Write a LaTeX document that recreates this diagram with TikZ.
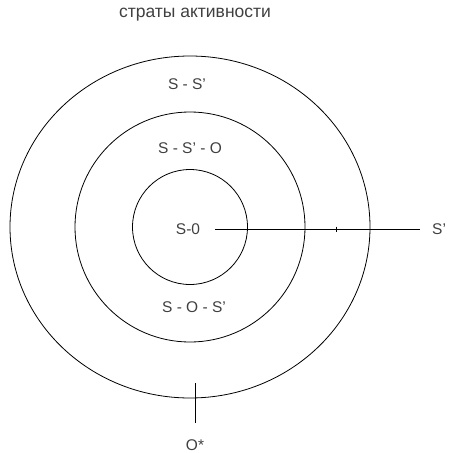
\documentclass[tikz,border=0pt]{standalone}
\usepackage{fontspec}
\setmainfont{Liberation Sans}
\begin{document}
\begin{tikzpicture}[x=1pt,y=-1pt,
  lbl/.style={inner sep=0pt,font=\fontsize{15.5}{18}\selectfont,text=black!75}]

  \useasboundingbox (0,0) rectangle (448,453);

  % Centre of the strata
  \coordinate (O) at (190,227);

  % Circles
  \draw[thick] (O) circle [x radius=180, y radius=171];
  \draw[thick] (O) circle (115);
  \draw[thick] (O) circle (57.5);

  % Title
  \node[lbl,font=\fontsize{17.5}{20}\selectfont] (title) at (195,15) {страты активности};

  % Labels
  \node[lbl] (ss) at (187,84) {S - S'};
  \node[lbl] (sso) at (190,148) {S - S' - O};
  \node[lbl] (s0) at (188,229) {S-0};
  \node[lbl] (sos) at (194,307) {S - O - S'};
  \node[lbl,anchor=west] (sp) at (432,229) {S'};
  \node[lbl] (ostar) at (195,445) {O*};

  % Connections
  \coordinate (T) at (336,229);
  \coordinate (B) at (195,383);
  \draw[thick] (s0.east) ++(15,0) coordinate (L) -- (sp.west -| 420,0) coordinate (R);
  \draw (T) ++(0,-2.5) -- ++(0,5);
  \draw[thick] (B) -- (ostar.north |- 0,423);

\end{tikzpicture}
\end{document}
